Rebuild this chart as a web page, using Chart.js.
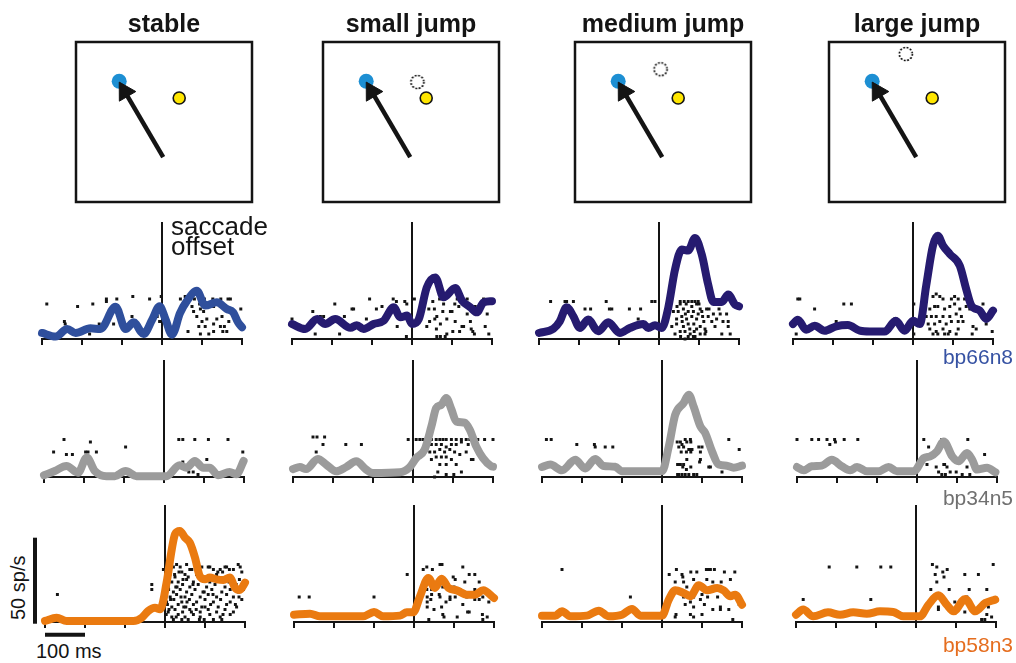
<!DOCTYPE html>
<html><head><meta charset="utf-8">
<script src="https://cdn.jsdelivr.net/npm/chart.js@4.4.1/dist/chart.umd.min.js"></script>
<style>
html,body{margin:0;padding:0;background:#fff;}
#fig{position:relative;width:1016px;height:663px;overflow:hidden;font-family:"Liberation Sans",Arial,sans-serif;background:#fff;}
#fig canvas{position:absolute;}
.lbl{position:absolute;white-space:nowrap;line-height:1;z-index:5;}
</style></head><body><div id="fig"></div>
<script>
// ---------- categories ----------
const conditions = ['stable', 'small jump', 'medium jump', 'large jump'];
const neurons = ['bp66n8', 'bp34n5', 'bp58n3'];
const windowMs = [-300, 200];
const tickStepMs = 100;
const saccadeOffsetMs = 0;
const rateMax = 68;      // sp/s shown per panel
const trialMax = 46.8;   // raster rows shown per panel
const scaleBarRate = 50; // sp/s
const scaleBarTime = 100; // ms

// ---------- schematic positions (deg) ----------
const saccadeStart = [-0.1, -4.4];
const saccadeEnd = [-4.9, 3.8];
const saccadeTarget = [-5.6, 5.1];
const probeFinal = [1.9, 3.0];
const probeInitialSmall = [0.8, 5.0];
const probeInitialMedium = [-0.3, 6.6];
const probeInitialLarge = [-1.4, 8.5];

// ---------- firing rates [ms, sp/s] ----------
const rate_bp66n8_stable = [[-300,3.5],[-266,1.4],[-237,5.8],[-216,3.5],[-179,6.2],[-154,5.8],[-116,18.8],[-91,5.8],[-71,9.7],[-46,2.9],[-25,11],[-6,19],[8,12],[25,2.5],[45,15],[62,22],[87,28],[108,19.4],[137,21.3],[162,17.4],[178,15.5],[190,9.7],[200,6.8]];
const rate_bp66n8_small = [[-300,8.7],[-267,5.8],[-237,11.6],[-217,8.7],[-192,11.6],[-154,6.5],[-138,8],[-121,5.8],[-96,8.7],[-71,10.6],[-46,18.4],[-29,12.6],[-12,13.6],[0,8.7],[17,11.6],[37,30],[58,35.8],[79,24.2],[108,29.6],[125,22.3],[146,18.4],[162,15.5],[179,21.3],[200,22]];
const rate_bp66n8_medium = [[-300,3.5],[-264,6],[-248,10.3],[-231,18.4],[-214,13.2],[-198,6.4],[-177,11.3],[-152,4.5],[-127,9.7],[-98,3.5],[-73,6.4],[-39,8.7],[-27,6.4],[-10,8],[7,6.4],[23,18],[40,40.3],[57,52],[73,51.4],[90,58.7],[107,49],[123,31.6],[136,21.5],[157,21.5],[173,25.8],[190,20],[200,19]];
const rate_bp66n8_large = [[-300,8.7],[-288,11.2],[-267,5.4],[-246,7.7],[-221,4.8],[-192,7.4],[-163,8.1],[-133,4.8],[-108,4.3],[-71,4.3],[-43,10.6],[-21,4.8],[0,10.6],[17,8.7],[33,31],[50,54.3],[62,60],[75,54.3],[92,49.4],[117,42.6],[133,29],[146,19.4],[167,16.5],[183,11.6],[200,16.5]];

const rate_bp34n5_stable = [[-300,1],[-273,3.5],[-244,6.4],[-215,2.5],[-193,11.3],[-173,3.5],[-144,0.5],[-123,0.5],[-96,3.5],[-69,0.5],[6,0.5],[39,6.8],[56,5.4],[77,9.3],[98,5.4],[114,5.4],[135,1],[164,2.9],[181,1.6],[199,9.3]];
const rate_bp34n5_small = [[-300,4.6],[-283,5.8],[-267,4.6],[-238,10.5],[-217,7.2],[-192,3.3],[-167,5.8],[-142,9.1],[-117,4.3],[-100,2.3],[-33,2.7],[-8,5.8],[8,11],[29,15.9],[46,29.4],[58,40.1],[71,42],[83,45.9],[96,39.3],[108,32.3],[129,31.6],[142,27.5],[158,17.8],[175,11],[196,6.2],[200,6]];
const rate_bp34n5_medium = [[-300,5.8],[-279,7.2],[-250,3.9],[-217,10],[-192,5],[-167,10.5],[-146,6.4],[-117,6],[-100,3.3],[0,3.3],[17,17.8],[33,36.2],[54,43],[67,47.8],[79,41],[96,29.4],[108,25.6],[125,14.9],[142,7.2],[162,6.6],[179,5.4],[200,6.6]];
const rate_bp34n5_large = [[-300,5.8],[-283,3.9],[-263,6.2],[-238,6.6],[-213,10],[-188,6.2],[-167,3.9],[-150,5.8],[-125,3.3],[-96,3.3],[-71,5.8],[-50,3.3],[-8,3.3],[17,11],[33,12],[50,14.9],[67,20.7],[88,12],[104,9.1],[125,14],[138,10],[150,4.3],[175,5.4],[196,2.7]];

const rate_bp58n3_stable = [[-300,0.6],[-271,2.5],[-246,0.6],[-79,0.6],[-58,2.5],[-42,6.4],[-25,8.3],[-12,7.4],[4,22.9],[17,42.3],[25,51],[37,52.9],[50,49],[62,46.1],[75,37.4],[87,26.7],[100,24.8],[112,25.8],[129,24.8],[146,24.4],[162,25.8],[175,20],[187,18.6],[200,22.9]];
const rate_bp58n3_small = [[-300,4.2],[-260,4.8],[-235,3.3],[-127,3.3],[-100,5.8],[-77,3.3],[-35,3.7],[-18,5.6],[-2,5.6],[15,14.9],[36,25.6],[52,19.8],[69,25.2],[86,19.8],[107,18.4],[132,15.9],[152,15.9],[173,18.4],[200,14]];
const rate_bp58n3_medium = [[-300,3.7],[-267,3.7],[-250,6.2],[-229,3.3],[-188,3.7],[-158,6.6],[-133,3.3],[-100,4.2],[-75,7.6],[-54,3.7],[0,3.7],[17,13],[33,18.4],[54,16.9],[71,15],[92,21.3],[113,18.4],[138,19.8],[154,18.4],[171,15],[183,15.9],[200,10]];
const rate_bp58n3_large = [[-300,4.2],[-282,7.2],[-257,3.3],[-220,5.6],[-190,4.2],[-157,5.6],[-123,4.8],[-90,6.2],[-57,5.8],[-32,3.3],[10,3.3],[31,10],[56,15.5],[77,10],[94,6.2],[123,13.4],[148,6.2],[173,11],[198,13]];

// ---------- spike rasters [ms, trial] ----------
const raster_bp66n8_stable = [[-288,14],[-244,7],[-242,6],[-211,13],[-173,14],[-139,16],[-139,15],[-113,16],[-73,17],[-31,16],[-2,17],[-121,6],[-75,9],[-12,9],[-6,7],[-181,2],[-157,6],[46,16],[58,17],[81,16],[94,14],[106,16],[127,16],[147,16],[165,16],[171,16],[197,12],[79,11],[87,9],[96,12],[100,7],[112,8],[92,5],[137,8],[150,9],[129,6],[108,5],[117,2],[146,5],[152,3],[162,3],[167,7],[65,3],[96,2],[129,3],[156,5],[54,13],[75,13],[129,13],[146,13],[104,11]];
const raster_bp66n8_small = [[-300,8],[-248,11],[-229,9],[-221,9],[-242,2],[-193,14],[-181,2],[-169,9],[-150,12],[-146,12],[-114,8],[-106,16],[-89,12],[-75,13],[-47,16],[-39,15],[-37,5],[-18,15],[-13,14],[-14,1],[-6,7],[6,16],[31,16],[52,15],[56,12],[44,7],[57,8],[62,9],[71,6],[61,4],[37,5],[77,11],[69,16],[83,1],[87,2],[96,11],[100,11],[107,14],[113,16],[108,7],[119,3],[125,5],[129,5],[138,16],[146,7],[148,4],[152,3],[156,2],[179,16],[183,5],[192,2],[62,1],[71,1],[102,3],[87,8],[138,10],[117,13],[158,13],[188,10],[79,14],[42,12]];
const raster_bp66n8_medium = [[-271,15],[-235,15],[-231,15],[-214,15],[-185,12],[-171,12],[-132,15],[-124,12],[-118,12],[-74,12],[-52,8],[-46,12],[-18,15],[-10,15],[53,15],[63,15],[73,15],[82,15],[90,15],[98,15],[53,14],[68,14],[82,13],[94,14],[103,12],[36,11],[48,11],[61,12],[73,11],[86,11],[98,10],[107,11],[119,12],[44,8],[57,9],[69,8],[82,9],[94,8],[109,9],[123,9],[136,10],[153,10],[169,10],[32,5],[44,6],[61,5],[73,6],[87,6],[103,5],[115,4],[132,7],[144,8],[173,7],[40,2],[53,3],[65,3],[78,2],[90,1],[103,2],[115,2],[157,2],[173,5],[178,2],[54,1],[65,0],[73,1],[86,1],[94,4],[45,13],[58,7],[77,4],[88,3],[112,7],[125,12],[140,5],[160,7],[66,10],[100,14],[117,3],[150,12]];
const raster_bp66n8_large = [[-288,16],[-283,16],[-246,12],[-173,14],[-154,14],[-192,7],[-46,8],[-42,8],[-292,2],[2,14],[2,2],[50,17],[58,18],[67,17],[75,16],[96,16],[104,17],[113,16],[129,16],[142,15],[154,13],[175,14],[42,12],[54,13],[62,13],[79,12],[92,13],[104,14],[117,12],[133,13],[33,9],[46,9],[58,9],[75,9],[92,9],[108,10],[121,9],[142,12],[162,12],[38,6],[54,6],[67,7],[83,6],[96,7],[113,7],[125,7],[150,5],[183,6],[42,4],[58,3],[75,4],[92,3],[113,4],[158,4],[50,2],[62,2],[79,2],[88,2],[108,2],[148,2],[198,3]];

const raster_bp34n5_stable = [[-276,10],[-250,15],[-244,9],[-229,9],[-196,10],[-190,10],[-184,14],[-169,10],[-96,12],[37,15],[47,15],[77,15],[111,15],[160,15],[197,10],[47,6],[107,7],[62,2],[73,2],[85,1]];
const raster_bp34n5_small = [[-250,16],[-240,16],[-221,16],[-242,10],[-225,13],[-168,13],[-129,13],[-146,7],[-12,15],[8,15],[17,15],[25,15],[33,15],[46,15],[58,15],[67,15],[75,15],[83,15],[96,15],[108,15],[121,15],[133,15],[142,15],[162,15],[179,15],[200,15],[29,13],[46,13],[58,13],[71,13],[83,12],[96,13],[108,13],[121,14],[138,13],[42,10],[54,10],[67,11],[79,10],[92,11],[104,10],[117,9],[133,10],[46,7],[58,8],[71,8],[83,8],[96,7],[146,7],[150,7],[54,0],[62,2],[67,5],[83,5],[83,1],[102,1],[121,2],[108,5]];
const raster_bp34n5_medium = [[-289,15],[-277,15],[-213,13],[-169,13],[-167,12],[-142,12],[-123,12],[38,14],[46,14],[50,13],[58,15],[62,14],[71,15],[72,14],[42,12],[54,12],[67,11],[71,11],[75,11],[48,10],[61,10],[72,10],[92,12],[100,12],[96,10],[125,11],[167,15],[193,11],[39,5],[46,5],[54,5],[62,7],[52,4],[61,3],[72,4],[96,7],[94,6],[117,4],[121,4],[150,2],[39,1],[42,1],[50,1],[58,1],[67,1],[79,1],[87,1]];
const raster_bp34n5_large = [[-300,15],[-263,15],[-246,15],[-225,15],[-218,13],[-206,15],[-204,14],[-182,15],[-148,15],[17,15],[29,12],[25,5],[48,4],[54,2],[62,15],[62,1],[67,5],[69,5],[75,4],[71,1],[83,2],[98,2],[113,1],[125,4],[127,15],[132,1],[169,9]];

const raster_bp58n3_stable = [[-269,11],[-33,15],[-33,13],[-4,21],
[21,1],[42,1],[58,1],[86,1],[98,1],[121,1],[142,1],
[17,2],[33,3],[50,2],[71,3],[88,2],[112,3],[138,2],[163,3],
[8,4],[25,5],[44,4],[62,5],[88,4],[108,5],[129,4],[150,5],[171,4],
[17,6],[33,7],[52,6],[71,7],[92,6],[114,7],[133,6],[154,7],[179,6],
[4,8],[22,9],[42,8],[61,9],[79,8],[100,9],[121,8],[139,9],[163,8],[192,9],
[13,10],[29,11],[50,10],[67,11],[88,10],[108,11],[129,10],[154,11],[171,10],
[0,12],[21,12],[38,13],[54,12],[75,13],[98,12],[117,13],[142,12],[163,13],[183,12],
[8,14],[27,14],[44,15],[62,14],[83,15],[104,14],[125,15],[150,14],[178,15],
[17,16],[33,16],[54,17],[71,16],[92,17],[112,16],[138,17],[171,16],[186,17],
[4,18],[25,18],[50,19],[58,18],[79,19],[98,18],[129,19],[163,18],
[13,20],[42,20],[67,21],[86,20],[121,21],[144,20],[171,21],[192,20],
[0,21],[21,22],[62,21],[92,22],[112,22],[138,21],[154,22],[161,21],
[38,22],[54,23],[108,22],[188,22],[29,23],[183,23],
[3,3],[10,5],[6,7],[14,9],[9,13],[2,16],[12,19],[35,20],[47,6],[30,14],[55,8],[66,4],[45,17],[24,19],
[78,5],[95,12],[110,18],[132,20],[145,3],[160,16],[176,7],[196,13],[185,10],[150,22],[120,11],[70,15],
[85,22],[100,6],[40,10],[28,2]];
const raster_bp58n3_small = [[-287,10],[-262,10],[-100,10],[-17,19],[23,21],[32,22],[46,21],[65,23],[70,23],[98,18],[103,17],[122,22],[138,19],[152,19],[163,16],[127,16],[32,13],[44,13],[72,14],[100,14],[115,13],[152,13],[170,13],[33,10],[44,11],[33,8],[42,9],[63,11],[65,10],[90,10],[103,10],[132,10],[152,9],[163,9],[172,10],[187,8],[122,7],[33,6],[50,5],[69,6],[80,8],[90,9],[134,4],[138,4],[171,3],[183,2],[37,1],[72,3],[75,2],[108,2],[172,1]];
const raster_bp58n3_medium = [[-250,21],[-79,10],[18,19],[36,21],[50,19],[52,18],[72,20],[87,20],[111,21],[115,21],[121,21],[131,21],[156,20],[182,20],[33,16],[54,16],[79,17],[112,17],[127,16],[148,16],[171,17],[37,13],[62,14],[96,14],[142,13],[54,10],[79,10],[100,11],[114,10],[139,10],[96,9],[71,8],[58,7],[79,6],[106,7],[146,6],[127,5],[146,5],[167,5],[193,7],[199,7],[35,3],[33,2],[71,3],[79,2],[100,3],[177,1]];
const raster_bp58n3_large = [[-282,9],[-217,22],[-148,22],[-88,22],[-63,22],[-113,9],[41,23],[52,22],[67,20],[78,21],[70,18],[48,19],[52,16],[37,13],[83,13],[122,19],[133,13],[156,19],[193,23],[177,13],[56,6],[56,5],[97,8],[127,10],[122,4],[181,6],[177,3],[172,1],[189,2],[164,1]];

// ---------- tables built from the arrays ----------
const rateTable = [
  [rate_bp66n8_stable, rate_bp66n8_small, rate_bp66n8_medium, rate_bp66n8_large],
  [rate_bp34n5_stable, rate_bp34n5_small, rate_bp34n5_medium, rate_bp34n5_large],
  [rate_bp58n3_stable, rate_bp58n3_small, rate_bp58n3_medium, rate_bp58n3_large]
];
const rasterTable = [
  [raster_bp66n8_stable, raster_bp66n8_small, raster_bp66n8_medium, raster_bp66n8_large],
  [raster_bp34n5_stable, raster_bp34n5_small, raster_bp34n5_medium, raster_bp34n5_large],
  [raster_bp58n3_stable, raster_bp58n3_small, raster_bp58n3_medium, raster_bp58n3_large]
];
const probeInitial = [null, probeInitialSmall, probeInitialMedium, probeInitialLarge];

// ---------- layout & style ----------
const PANEL_W = 200, PANEL_H = 117, TICK_LEN = 6;
const colX = [[42,292,539,793],[44,293,542,797],[45,294,542,796]];
const rowAxisY = [339, 477, 622];
const boxLeft = [76, 323, 575, 829];
const BOX_W = 176, BOX_H = 160, BOX_TOP = 42;
const NAVY = '#261b70', GRAY = '#9b9b9b', ORANGE = '#ea7a10';
const traceColors = [['#2f4f9c', NAVY, NAVY, NAVY], [GRAY, GRAY, GRAY, GRAY], [ORANGE, ORANGE, ORANGE, ORANGE]];
const labelColors = ['#3652a3', '#707070', '#e56d1e'];
const INK = '#141414';

const fig = document.getElementById('fig');
function addCanvas(left, top, w, h) {
  const c = document.createElement('canvas');
  c.width = w; c.height = h;
  c.style.left = left + 'px'; c.style.top = top + 'px';
  c.style.width = w + 'px'; c.style.height = h + 'px';
  fig.appendChild(c);
  return c;
}
function addLabel(text, css) {
  const d = document.createElement('div');
  d.className = 'lbl';
  d.textContent = text;
  Object.assign(d.style, css);
  fig.appendChild(d);
  return d;
}
const toXY = arr => arr.map(p => ({x: p[0], y: p[1]}));

const scaleBarPlugin = {
  id: 'scaleBars',
  afterDatasetsDraw(chart, args, o) {
    if (!o || !o.show) return;
    const xs = chart.scales.x, ys = chart.scales.y, g = chart.ctx;
    g.save();
    g.strokeStyle = INK; g.lineWidth = 4; g.lineCap = 'butt';
    const bx = xs.getPixelForValue(o.barX);
    g.beginPath();
    g.moveTo(bx, ys.getPixelForValue(o.rateBase));
    g.lineTo(bx, ys.getPixelForValue(o.rateBase + scaleBarRate));
    g.stroke();
    const by = ys.getPixelForValue(o.barY);
    g.beginPath();
    g.moveTo(xs.getPixelForValue(o.timeStart), by);
    g.lineTo(xs.getPixelForValue(o.timeStart + scaleBarTime), by);
    g.stroke();
    g.restore();
  }
};

function makePanel(r, c) {
  const withBars = (r === 2 && c === 0);
  const pad = withBars ? {left: 16, right: 8, top: 4, bottom: 12} : {left: 8, right: 8, top: 4, bottom: 4};
  const W = PANEL_W + pad.left + pad.right;
  const H = PANEL_H + pad.top + pad.bottom + TICK_LEN;
  const cv = addCanvas(colX[r][c] - pad.left, rowAxisY[r] - PANEL_H - pad.top, W, H);
  new Chart(cv, {
    type: 'line',
    data: {datasets: [
      {type: 'line', label: neurons[r] + ' rate', data: toXY(rateTable[r][c]), borderColor: traceColors[r][c],
       borderWidth: 8, pointRadius: 0, cubicInterpolationMode: 'monotone', borderCapStyle: 'round',
       borderJoinStyle: 'round', yAxisID: 'y', clip: false, order: 1},
      {type: 'scatter', label: neurons[r] + ' spikes', data: toXY(rasterTable[r][c]), yAxisID: 'yT',
       pointStyle: 'rect', pointRadius: 2.1, backgroundColor: INK, borderWidth: 0, clip: false, order: 2}
    ]},
    options: {
      responsive: false, animation: false, devicePixelRatio: 1, events: [],
      layout: {padding: pad, autoPadding: false},
      plugins: {legend: {display: false}, tooltip: {enabled: false}, title: {display: false},
        scaleBars: {show: withBars, barX: -325, rateBase: -1, barY: -7.4, timeStart: windowMs[0]}},
      scales: {
        x: {type: 'linear', min: windowMs[0], max: windowMs[1],
            ticks: {display: false, stepSize: tickStepMs},
            grid: {display: true, drawOnChartArea: true, drawTicks: true, tickLength: TICK_LEN,
                   tickWidth: 2, tickColor: INK, lineWidth: 2,
                   color: ctx => (ctx.tick && ctx.tick.value === saccadeOffsetMs) ? INK : 'rgba(0,0,0,0)'},
            border: {display: true, color: INK, width: 2}},
        y: {type: 'linear', display: false, min: 0, max: rateMax},
        yT: {type: 'linear', display: false, min: 0, max: trialMax, position: 'right'}
      }
    },
    plugins: [scaleBarPlugin]
  });
}

function dottedCircle() {
  const c = document.createElement('canvas');
  c.width = 18; c.height = 18;
  const g = c.getContext('2d');
  g.setLineDash([1.8, 1.6]);
  g.lineWidth = 1.6; g.strokeStyle = '#000';
  g.beginPath(); g.arc(9, 9, 6.5, 0, Math.PI * 2); g.stroke();
  return c;
}
const framePlugin = {
  id: 'frame',
  beforeDatasetsDraw(chart) {
    const a = chart.chartArea, g = chart.ctx;
    g.save(); g.strokeStyle = INK; g.lineWidth = 2.5;
    g.strokeRect(a.left, a.top, a.right - a.left, a.bottom - a.top);
    g.restore();
  }
};
function makeSchematic(c) {
  const cv = addCanvas(boxLeft[c] - 3, 0, BOX_W + 6, BOX_TOP + BOX_H + 3);
  const ds = [
    {type: 'line', label: 'saccade', data: toXY([saccadeStart, saccadeEnd]), borderColor: INK, borderWidth: 4.5,
     pointRadius: [0, 11], pointStyle: 'triangle', pointBackgroundColor: INK, pointBorderColor: INK,
     pointBorderWidth: 1, clip: false, order: 0,
     pointRotation: ctx => {
       const xs = ctx.chart.scales.x, ys = ctx.chart.scales.y;
       const dx = xs.getPixelForValue(saccadeEnd[0]) - xs.getPixelForValue(saccadeStart[0]);
       const dy = ys.getPixelForValue(saccadeEnd[1]) - ys.getPixelForValue(saccadeStart[1]);
       return Math.atan2(dx, -dy) * 180 / Math.PI;
     }},
    {type: 'scatter', label: 'target', data: toXY([saccadeTarget]), pointRadius: 7.5,
     backgroundColor: '#1d8fd3', borderWidth: 0, order: 2},
    {type: 'scatter', label: 'probe', data: toXY([probeFinal]), pointRadius: 6,
     backgroundColor: '#ffe600', borderColor: INK, borderWidth: 1.6, order: 2}
  ];
  if (probeInitial[c]) {
    ds.push({type: 'scatter', label: 'probe before jump', data: toXY([probeInitial[c]]),
             pointStyle: dottedCircle(), order: 2});
  }
  new Chart(cv, {
    type: 'scatter',
    data: {datasets: ds},
    options: {
      responsive: false, animation: false, devicePixelRatio: 1, events: [],
      layout: {padding: {left: 3, right: 3, top: 0, bottom: 3}, autoPadding: false},
      plugins: {legend: {display: false}, tooltip: {enabled: false},
        title: {display: true, text: conditions[c], color: INK,
                font: {family: '"Liberation Sans", Arial, sans-serif', size: 25, weight: 'bold'},
                padding: {top: 10, bottom: 2}}},
      scales: {x: {display: false, min: -11, max: 11}, y: {display: false, min: -10, max: 10}}
    },
    plugins: [framePlugin]
  });
}

for (let c = 0; c < 4; c++) makeSchematic(c);
for (let r = 0; r < 3; r++) for (let c = 0; c < 4; c++) makePanel(r, c);

// ---------- text ----------
addLabel('saccade', {left: '171px', top: '213px', fontSize: '26px', color: INK});
addLabel('offset', {left: '171px', top: '233px', fontSize: '26px', color: INK});
const labelBaselines = [364, 505, 652];
neurons.forEach((n, i) => addLabel(n, {right: '3px', top: (labelBaselines[i] - 17.8) + 'px', fontSize: '21px', color: labelColors[i]}));
addLabel('100 ms', {left: '36px', top: '641px', fontSize: '20px', color: INK});
addLabel('50 sp/s', {left: '-14px', top: '578px', width: '64px', height: '20px', textAlign: 'center',
                     fontSize: '20px', color: INK, transform: 'rotate(-90deg)'});
</script></body></html>
